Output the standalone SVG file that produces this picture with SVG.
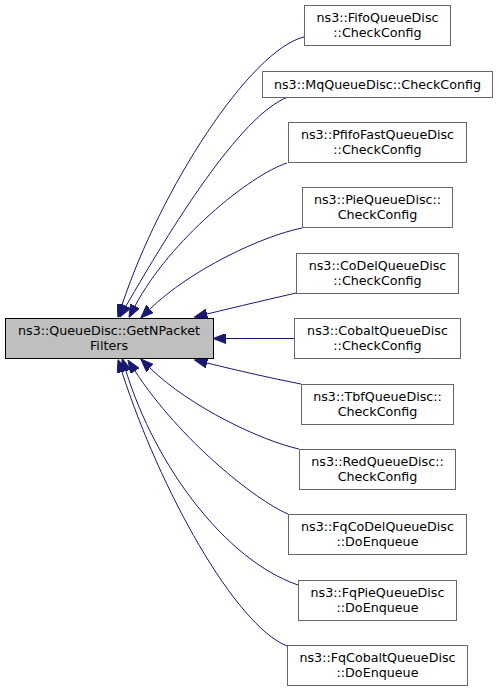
<svg xmlns="http://www.w3.org/2000/svg" width="499" height="691" viewBox="0 0 499 691">
<defs>
<style>
.n rect{fill:#ffffff;stroke:#666666;stroke-width:1}
.m rect{fill:#bfbfbf;stroke:#000000;stroke-width:1}
text{font-family:"DejaVu Sans","Liberation Sans",sans-serif;font-size:12.7px;fill:#000000;text-anchor:middle}
.e path{fill:none;stroke:#191970;stroke-width:1;marker-end:url(#ah)}
</style>
<marker id="ah" viewBox="0 0 13 10" refX="0" refY="5" markerWidth="13" markerHeight="10" markerUnits="userSpaceOnUse" orient="auto">
<path d="M0,0 L13,5 L0,10 z" fill="#191970" stroke="#191970" stroke-width="1"/>
</marker>
</defs>
<rect width="499" height="691" fill="#ffffff"/>
<g class="e" id="edges">
<path d="M304,37 C250,50 160,190 122,305"/>
<path d="M288,97 C240,115 170,230 126,306"/>
<path d="M287,163 C250,175 170,240 135,306"/>
<path d="M302,228 C262,236 190,270 150,309"/>
<path d="M296,293 C270,299 240,306 207,314"/>
<path d="M294,338.5 L226,338.5"/>
<path d="M301,384 C270,378 240,371 207,363"/>
<path d="M299,449 C262,441 190,407 150,368"/>
<path d="M288,514 C255,500 180,440 135,371"/>
<path d="M298,585 C225,560 155,465 126,371"/>
<path d="M287,646 C235,625 160,490 122,372"/>
</g>
<g class="m" id="main"><rect x="5.5" y="318.5" width="208" height="40"/><text x="109" y="335">ns3::QueueDisc::GetNPacket</text><text x="109" y="350">Filters</text></g>
<g class="n" id="fifo"><rect x="304.5" y="5.5" width="146" height="40"/><text x="377.5" y="22">ns3::FifoQueueDisc</text><text x="377.5" y="37">::CheckConfig</text></g>
<g class="n" id="mq"><rect x="262.5" y="71.5" width="230" height="26"/><text x="377.5" y="88.5">ns3::MqQueueDisc::CheckConfig</text></g>
<g class="n" id="pfifo"><rect x="288.5" y="122.5" width="178" height="40"/><text x="377.5" y="139">ns3::PfifoFastQueueDisc</text><text x="377.5" y="154">::CheckConfig</text></g>
<g class="n" id="pie"><rect x="302.5" y="187.5" width="150" height="40"/><text x="377.5" y="204">ns3::PieQueueDisc::</text><text x="377.5" y="219">CheckConfig</text></g>
<g class="n" id="codel"><rect x="296.5" y="253.5" width="162" height="40"/><text x="377.5" y="270">ns3::CoDelQueueDisc</text><text x="377.5" y="285">::CheckConfig</text></g>
<g class="n" id="cobalt"><rect x="294.5" y="318.5" width="166" height="40"/><text x="377.5" y="335">ns3::CobaltQueueDisc</text><text x="377.5" y="350">::CheckConfig</text></g>
<g class="n" id="tbf"><rect x="301.5" y="384.5" width="152" height="40"/><text x="377.5" y="401">ns3::TbfQueueDisc::</text><text x="377.5" y="416">CheckConfig</text></g>
<g class="n" id="red"><rect x="299.5" y="449.5" width="156" height="40"/><text x="377.5" y="466">ns3::RedQueueDisc::</text><text x="377.5" y="481">CheckConfig</text></g>
<g class="n" id="fqcodel"><rect x="288.5" y="514.5" width="178" height="40"/><text x="377.5" y="531">ns3::FqCoDelQueueDisc</text><text x="377.5" y="546">::DoEnqueue</text></g>
<g class="n" id="fqpie"><rect x="298.5" y="580.5" width="158" height="40"/><text x="377.5" y="597">ns3::FqPieQueueDisc</text><text x="377.5" y="612">::DoEnqueue</text></g>
<g class="n" id="fqcobalt"><rect x="287.5" y="645.5" width="180" height="40"/><text x="377.5" y="662">ns3::FqCobaltQueueDisc</text><text x="377.5" y="677">::DoEnqueue</text></g>
</svg>
